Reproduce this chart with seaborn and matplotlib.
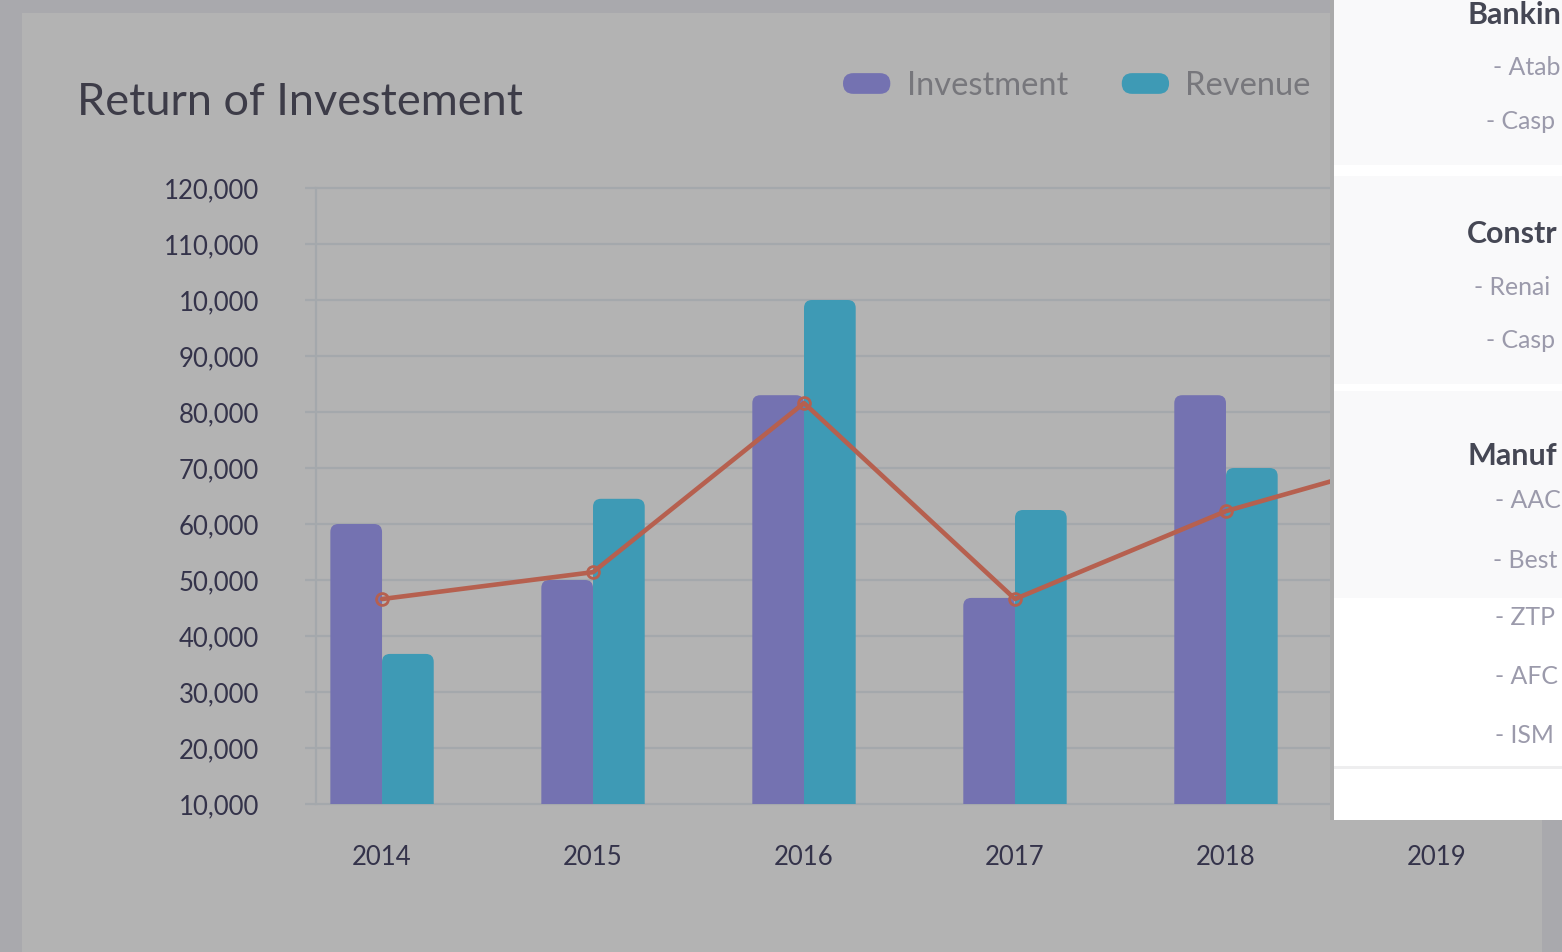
import matplotlib
matplotlib.use("Agg")
import matplotlib.pyplot as plt
import seaborn as sns
import pandas as pd
import numpy as np
from matplotlib.patches import FancyBboxPatch, Rectangle, Patch
from matplotlib.legend_handler import HandlerPatch

# ---------------- data ----------------
years = ["2014", "2015", "2016", "2017", "2018", "2019"]
investment = [60000, 50000, 83000, 46800, 83000, np.nan]   # 2019 hidden behind panel
revenue = [36800, 64500, 100000, 62500, 70000, np.nan]
roi_line = [46600, 51400, 81600, 46600, 62300, 73000]
series_names = ["Investment", "Revenue"]
ytick_values = [10000, 20000, 30000, 40000, 50000, 60000, 70000, 80000, 90000, 100000, 110000, 120000]
ytick_labels = ["10,000", "20,000", "30,000", "40,000", "50,000", "60,000", "70,000",
                "80,000", "90,000", "10,000", "110,000", "120,000"]
title_text = "Return of Investement"

# panel text as visible in the reference (cut by the page edge)
panel_headers = ["Bankin", "Constr", "Manuf"]
panel_items = [["- Atab", "- Casp"], ["- Renai", "- Casp"],
               ["- AAC", "- Best", "- ZTP", "- AFC", "- ISM"]]

# ---------------- style ----------------
PURPLE = "#7472b1"
TEAL = "#3e9ab5"
LINE = "#b6604f"
GRID = "#a4a8ac"
CARD = "#b3b3b3"
OUTER = "#a9a9ad"
TXT = "#34334a"

sns.set_theme(style="white")
plt.rcParams["font.family"] = ["Lato", "DejaVu Sans"]

W, H = 1562, 952
fig = plt.figure(figsize=(W / 100, H / 100), dpi=100, facecolor=OUTER)

def px(x0, y0, x1, y1):
    """figure-fraction rect from pixel box (top-left origin)"""
    return [x0 / W, 1 - y1 / H, (x1 - x0) / W, (y1 - y0) / H]

# card background
fig.add_artist(Rectangle((22 / W, 0), (1542 - 22) / W, 1 - 13 / H,
                         transform=fig.transFigure, fc=CARD, ec="none", zorder=-10))

# ---------------- main axes ----------------
ax = fig.add_axes(px(316, 188, 1503, 804))
ax.set_facecolor("none")

df = pd.DataFrame({
    "year": years * 2,
    "series": [series_names[0]] * len(years) + [series_names[1]] * len(years),
    "value": investment + revenue,
})
sns.barplot(data=df, x="year", y="value", hue="series", palette=[PURPLE, TEAL],
            width=0.49, gap=0, saturation=1, legend=False, ax=ax, errorbar=None)

ax.set_xlim(-0.313, 5.313)
ax.set_ylim(10000, 120000)

# rounded bar tops
x_per_px = (5.313 + 0.313) / (1503 - 316)
y_per_px = 110000 / (804 - 188)
aspect = y_per_px / x_per_px
rad = 8 * x_per_px
for p in list(ax.patches):
    x, y = p.get_x(), p.get_y()
    w, h = p.get_width(), p.get_height()
    if not np.isfinite(h) or h == 0:
        p.remove()
        continue
    fb = FancyBboxPatch((x, y), w, h, boxstyle=f"round,pad=0,rounding_size={rad}",
                        mutation_aspect=aspect, fc=p.get_facecolor(), ec="none",
                        zorder=2, linewidth=0)
    p.remove()
    ax.add_patch(fb)

# line
sns.lineplot(x=np.arange(len(years)), y=roi_line, color=LINE, linewidth=3.3,
             marker="o", markersize=8.5, markerfacecolor="none",
             markeredgecolor=LINE, markeredgewidth=2.0, ax=ax, zorder=4)

ax.set_yticks(ytick_values)
ax.set_yticklabels(ytick_labels)
ax.set_xticks(range(len(years)))
ax.set_xticklabels(years)
ax.set_xlabel("")
ax.set_ylabel("")
ax.set_axisbelow(True)
ax.yaxis.grid(True, color=GRID, linewidth=1.6)
ax.xaxis.grid(False)
for gl in ax.get_ygridlines():
    gl.set_clip_on(False)
for s in ["top", "right", "bottom"]:
    ax.spines[s].set_visible(False)
ax.spines["left"].set_color(GRID)
ax.spines["left"].set_linewidth(1.6)
ax.tick_params(axis="y", which="major", left=True, length=8, width=1.6, color=GRID,
               pad=33, labelsize=18.5, labelcolor=TXT)
ax.tick_params(axis="x", which="major", length=0, pad=29.5, labelsize=18.5, labelcolor=TXT)

# title
fig.text(77 / W, 1 - 115 / H, title_text, fontsize=32.5, color="#3d3c48",
         ha="left", va="baseline")

# legend with pill handles
class HandlerPill(HandlerPatch):
    def create_artists(self, legend, orig_handle, xdescent, ydescent, width, height,
                       fontsize, trans):
        p = FancyBboxPatch((-xdescent, -ydescent), width, height,
                           boxstyle=f"round,pad=0,rounding_size={height / 2}",
                           fc=orig_handle.get_facecolor(), ec="none", transform=trans)
        return [p]

handles = [Patch(fc=PURPLE), Patch(fc=TEAL)]
leg = fig.legend(handles=handles, labels=series_names, handler_map={Patch: HandlerPill()},
                 ncol=2, frameon=False, loc="upper left",
                 bbox_to_anchor=(843 / W, 1 - 71 / H), bbox_transform=fig.transFigure,
                 borderpad=0, borderaxespad=0, fontsize=23.5, handlelength=1.45,
                 handleheight=0.6, handletextpad=0.5, columnspacing=1.65)
for t in leg.get_texts():
    t.set_color("#77777c")

# ---------------- overlay panel ----------------
fig.add_artist(Rectangle((1330 / W, 1 - 820 / H), 4 / W, 820 / H,
                         transform=fig.transFigure, fc="#aaaaaa", ec="none", zorder=5))
pax = fig.add_axes(px(1334, 0, 1562, 820), zorder=10)
pax.set_xlim(1334, 1562)
pax.set_ylim(820, 0)
pax.axis("off")
pax.add_patch(Rectangle((1334, 0), 228, 820, fc="white", ec="none"))
for y0, y1 in [(0, 165), (176, 384), (391, 598)]:
    pax.add_patch(Rectangle((1334, y0), 228, y1 - y0, fc="#f9f9fa", ec="none"))
pax.add_patch(Rectangle((1334, 766), 228, 3, fc="#eeeeef", ec="none"))

HDR = "#454754"
ITEM = "#9b9aab"
header_pos = [(1467, 24), (1467, 243), (1467, 465)]
item_pos = [[(1493, 75), (1486, 129)], [(1474, 295), (1486, 348)],
            [(1495, 508), (1493, 568), (1495, 625), (1495, 684), (1495, 743)]]
hdr_texts, item_texts = [], []
for hdr, (hx, hy), items, ipos in zip(panel_headers, header_pos, panel_items, item_pos):
    hdr_texts.append(pax.text(hx, hy, hdr, fontsize=23, fontweight="bold", color=HDR,
                              ha="left", va="baseline"))
    for it, (ix, iy) in zip(items, ipos):
        item_texts.append(pax.text(ix, iy, it, fontsize=21.5, color=ITEM,
                                   ha="left", va="baseline"))

# shrink panel texts (uniformly per group) so they stay inside the page edge
renderer = fig.canvas.get_renderer()
limit = W - 1
for group in (hdr_texts, item_texts):
    factor = 1.0
    for t in group:
        bb = t.get_window_extent(renderer)
        if bb.x1 > limit:
            factor = min(factor, (limit - bb.x0) / bb.width)
    for t in group:
        t.set_fontsize(t.get_fontsize() * factor)

fig.savefig("out.png", dpi=100, facecolor=OUTER)
